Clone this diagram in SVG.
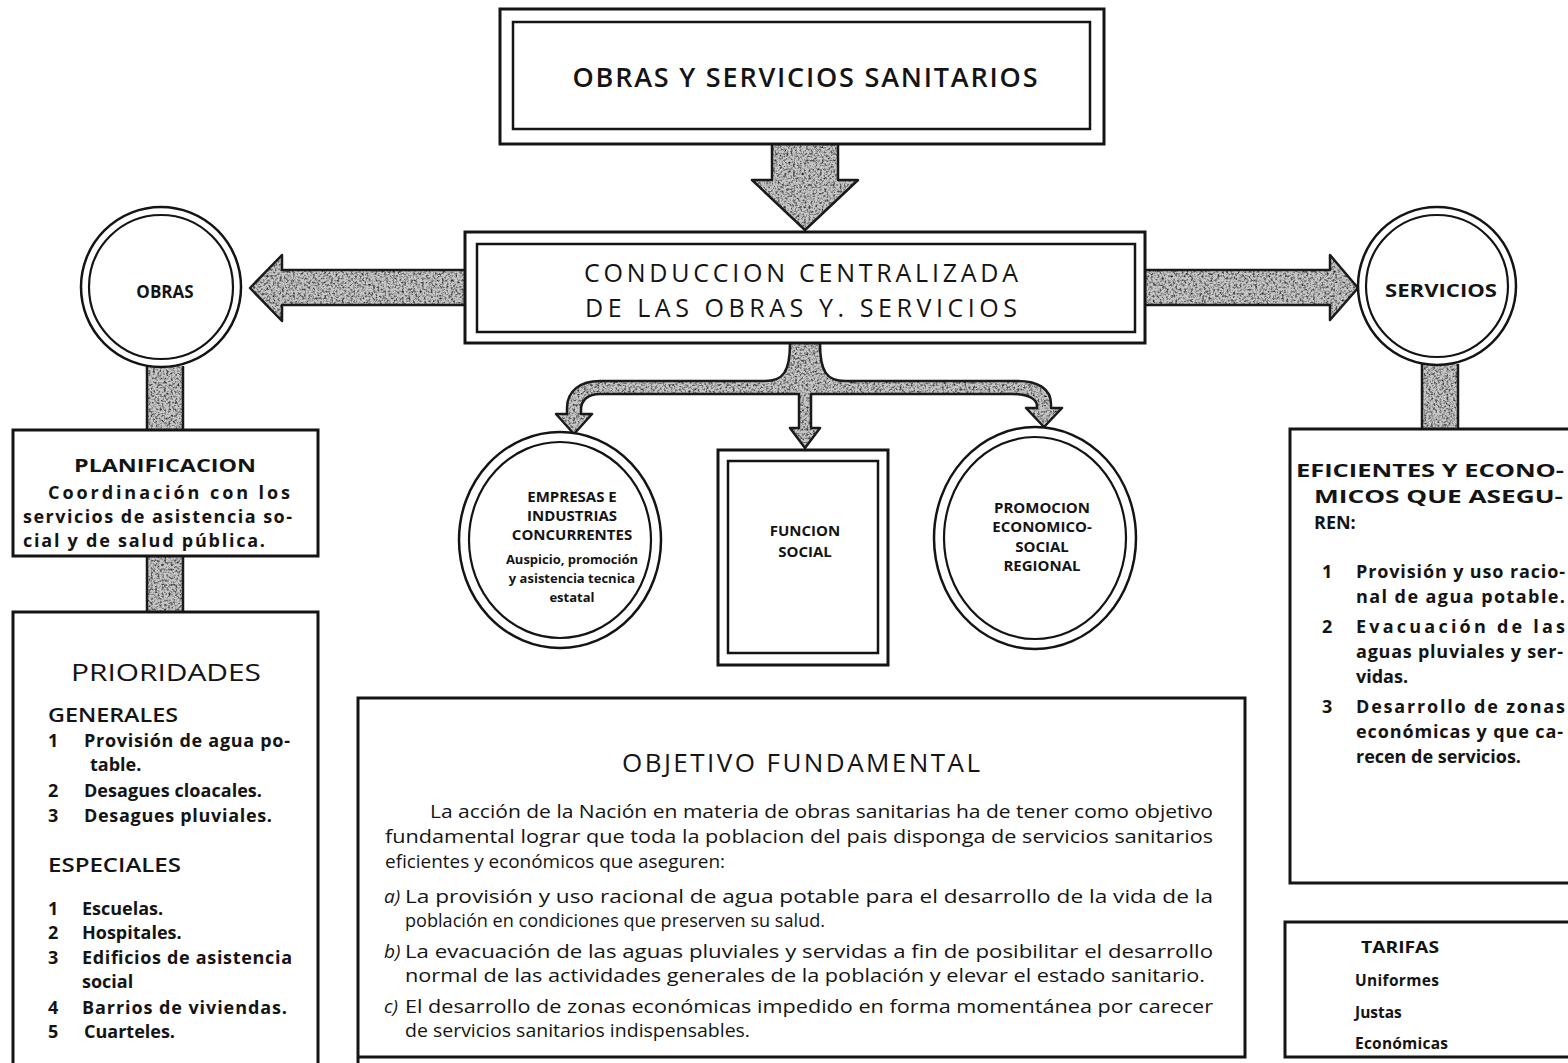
<svg xmlns="http://www.w3.org/2000/svg" width="1568" height="1063" viewBox="0 0 1568 1063">
<defs>
<style>
.bx{fill:#fff;stroke:#141414;stroke-width:3}
.bx2{fill:none;stroke:#141414;stroke-width:2.5}
.ring{fill:#fff;stroke:#141414;stroke-width:2.5}
.ring2{fill:none;stroke:#141414;stroke-width:2.2}
.arw{fill:#c6c6c6}
.arwo{fill:none;stroke:#1a1a1a;stroke-width:2.5;stroke-linejoin:round}
text{font-family:"Open Sans","Noto Sans","DejaVu Sans",sans-serif;fill:#141414}
.b{font-weight:700}
.t1{font-size:27px;font-weight:600}
.t2{font-size:25px}
.c16{font-size:17px;font-weight:700}
.s17{font-size:18px;font-weight:700}
.s13{font-size:15px;font-weight:700}
.s12{font-size:13px;font-weight:700}
.p{font-size:19px}
.mid{text-anchor:middle}
</style>
<filter id="grain" x="-5%" y="-5%" width="110%" height="110%" color-interpolation-filters="sRGB">
<feTurbulence type="fractalNoise" baseFrequency="0.45" numOctaves="3" seed="4" result="t"/>
<feColorMatrix in="t" type="matrix" values="0 0 0 0 0.15  0 0 0 0 0.15  0 0 0 0 0.15  2.4 0 0 0 -1.05" result="spots"/>
<feComposite in="spots" in2="SourceAlpha" operator="in" result="sp"/>
<feMerge><feMergeNode in="SourceGraphic"/><feMergeNode in="sp"/></feMerge>
</filter>
</defs>
<rect width="1568" height="1063" fill="#fff"/>

<g id="connectors">
<g filter="url(#grain)">
<path id="c-down" class="arw" d="M772 145 L838 145 L838 180 L858 180 L805 230 L752 180 L772 180 Z"/>
<path id="c-left" class="arw" d="M465 270 L282 270 L282 255 L250 288 L282 321 L282 305 L465 305 Z"/>
<path id="c-right" class="arw" d="M1145 270 L1330 270 L1330 255 L1358 288 L1330 320 L1330 305 L1145 305 Z"/>
<path id="c-branch" class="arw" d="M790 343 C790 372 783 381 765 381 L600 381 C580 381 567 391 567 408 L567 414 L556 414 L574 434 L592 414 L581 414 L581 410 C581 400 588 394 600 394 L799 394 L799 428 L790 428 L805 448 L820 428 L811 428 L811 394 L1012 394 C1030 394 1037 400 1037 406 L1037 408 L1026 408 L1044 427 L1062 408 L1051 408 L1051 404 C1051 389 1038 381 1018 381 L845 381 C827 381 820 372 820 343 Z"/>
<rect class="arw" x="147" y="366" width="36" height="64"/>
<rect class="arw" x="147" y="556" width="36" height="56"/>
<rect class="arw" x="1422" y="364" width="36" height="65"/>
</g>
<path class="arwo" d="M772 145 L772 180 L752 180 L805 230 L858 180 L838 180 L838 145"/>
<path class="arwo" d="M465 270 L282 270 L282 255 L250 288 L282 321 L282 305 L465 305"/>
<path class="arwo" d="M1145 270 L1330 270 L1330 255 L1358 288 L1330 320 L1330 305 L1145 305"/>
<path class="arwo" d="M790 343 C790 372 783 381 765 381 L600 381 C580 381 567 391 567 408 L567 414 L556 414 L574 434 L592 414 L581 414 L581 410 C581 400 588 394 600 394 L799 394 L799 428 L790 428 L805 448 L820 428 L811 428 L811 394 L1012 394 C1030 394 1037 400 1037 406 L1037 408 L1026 408 L1044 427 L1062 408 L1051 408 L1051 404 C1051 389 1038 381 1018 381 L845 381 C827 381 820 372 820 343"/>
<path class="arwo" d="M147 366 L147 430 M183 366 L183 430 M147 556 L147 612 M183 556 L183 612 M1422 364 L1422 429 M1458 364 L1458 429"/>
</g>

<g id="n-top">
<rect class="bx" x="500" y="9" width="604" height="135"/>
<rect class="bx2" x="513" y="22" width="577" height="107"/>
<text class="t1 mid" x="805" y="87" textLength="465">OBRAS Y SERVICIOS SANITARIOS</text>
</g>

<g id="n-central">
<rect class="bx" x="465" y="232" width="680" height="111"/>
<rect class="bx2" x="477" y="244" width="658" height="88"/>
<text class="t2 mid" x="801" y="282" textLength="434">CONDUCCION CENTRALIZADA</text>
<text class="t2 mid" x="801" y="317" textLength="432">DE LAS OBRAS Y. SERVICIOS</text>
</g>

<g id="n-obras">
<circle class="ring" cx="161" cy="287" r="80"/>
<circle class="ring2" cx="161" cy="287" r="72"/>
<text class="c16 mid" x="165" y="298">OBRAS</text>
</g>

<g id="n-servicios">
<circle class="ring" cx="1437" cy="286" r="79"/>
<circle class="ring2" cx="1437" cy="286" r="71"/>
<text class="c16 mid" x="1441" y="297" textLength="112" lengthAdjust="spacingAndGlyphs">SERVICIOS</text>
</g>

<g id="n-planificacion">
<rect class="bx" x="13" y="430" width="305" height="126"/>
<text class="s17 mid" x="165" y="472" textLength="182" lengthAdjust="spacingAndGlyphs">PLANIFICACION</text>
<text class="s17" x="48" y="499" textLength="242">Coordinación con los</text>
<text class="s17" x="23" y="523" textLength="269">servicios de asistencia so-</text>
<text class="s17" x="23" y="547" textLength="242">cial y de salud pública.</text>
</g>

<g id="n-prioridades">
<path class="bx" d="M13 1070 L13 612 L318 612 L318 1070"/>
<text class="mid" x="166" y="681" style="font-size:24px" textLength="190" lengthAdjust="spacingAndGlyphs">PRIORIDADES</text>
<text x="48" y="722" style="font-size:19px;font-weight:600" textLength="130" lengthAdjust="spacingAndGlyphs">GENERALES</text>
<text class="s17" x="48" y="747">1</text>
<text class="s17" x="84" y="747" textLength="206">Provisión de agua po-</text>
<text class="s17" x="90" y="771">table.</text>
<text class="s17" x="48" y="797">2</text>
<text class="s17" x="84" y="797" textLength="178">Desagues cloacales.</text>
<text class="s17" x="48" y="822">3</text>
<text class="s17" x="84" y="822" textLength="188">Desagues pluviales.</text>
<text x="48" y="872" style="font-size:19px;font-weight:600" textLength="133" lengthAdjust="spacingAndGlyphs">ESPECIALES</text>
<text class="s17" x="48" y="915">1</text>
<text class="s17" x="82" y="915">Escuelas.</text>
<text class="s17" x="48" y="939">2</text>
<text class="s17" x="82" y="939">Hospitales.</text>
<text class="s17" x="48" y="964">3</text>
<text class="s17" x="82" y="964" textLength="210">Edificios de asistencia</text>
<text class="s17" x="82" y="988">social</text>
<text class="s17" x="48" y="1014">4</text>
<text class="s17" x="82" y="1014" textLength="205">Barrios de viviendas.</text>
<text class="s17" x="48" y="1038">5</text>
<text class="s17" x="84" y="1038">Cuarteles.</text>
</g>

<g id="n-empresas">
<ellipse class="ring" cx="560" cy="540" rx="101" ry="108"/>
<ellipse class="ring2" cx="560" cy="540" rx="91" ry="98"/>
<text class="s13 mid" x="572" y="502">EMPRESAS E</text>
<text class="s13 mid" x="572" y="521">INDUSTRIAS</text>
<text class="s13 mid" x="572" y="540">CONCURRENTES</text>
<text class="s12 mid" x="572" y="564">Auspicio, promoción</text>
<text class="s12 mid" x="572" y="583">y asistencia tecnica</text>
<text class="s12 mid" x="572" y="602">estatal</text>
</g>

<g id="n-funcion">
<rect class="bx" x="718" y="450" width="170" height="215"/>
<rect class="bx2" x="728" y="461" width="150" height="192"/>
<text class="s13 mid" x="805" y="536">FUNCION</text>
<text class="s13 mid" x="805" y="557">SOCIAL</text>
</g>

<g id="n-promocion">
<ellipse class="ring" cx="1035" cy="538" rx="101" ry="111"/>
<ellipse class="ring2" cx="1035" cy="538" rx="91" ry="101"/>
<text class="s13 mid" x="1042" y="513">PROMOCION</text>
<text class="s13 mid" x="1042" y="532">ECONOMICO-</text>
<text class="s13 mid" x="1042" y="552">SOCIAL</text>
<text class="s13 mid" x="1042" y="571">REGIONAL</text>
</g>

<g id="n-objetivo">
<path class="bx" d="M358 1063 L358 698 L1245 698 L1245 1057 L358 1057"/>
<text class="mid" x="801" y="772" style="font-size:26px" textLength="358">OBJETIVO FUNDAMENTAL</text>
<text class="p" x="430" y="818" textLength="783" lengthAdjust="spacingAndGlyphs">La acción de la Nación en materia de obras sanitarias ha de tener como objetivo</text>
<text class="p" x="385" y="843" textLength="828" lengthAdjust="spacingAndGlyphs">fundamental lograr que toda la poblacion del pais disponga de servicios sanitarios</text>
<text class="p" x="385" y="868" textLength="340" lengthAdjust="spacingAndGlyphs">eficientes y económicos que aseguren:</text>
<text class="p" x="384" y="903" font-style="italic">a)</text>
<text class="p" x="405" y="903" textLength="808" lengthAdjust="spacingAndGlyphs">La provisión y uso racional de agua potable para el desarrollo de la vida de la</text>
<text class="p" x="405" y="927" textLength="420" lengthAdjust="spacingAndGlyphs">población en condiciones que preserven su salud.</text>
<text class="p" x="384" y="958" font-style="italic">b)</text>
<text class="p" x="405" y="958" textLength="808" lengthAdjust="spacingAndGlyphs">La evacuación de las aguas pluviales y servidas a fin de posibilitar el desarrollo</text>
<text class="p" x="405" y="982" textLength="800" lengthAdjust="spacingAndGlyphs">normal de las actividades generales de la población y elevar el estado sanitario.</text>
<text class="p" x="384" y="1013" font-style="italic">c)</text>
<text class="p" x="405" y="1013" textLength="808" lengthAdjust="spacingAndGlyphs">El desarrollo de zonas económicas impedido en forma momentánea por carecer</text>
<text class="p" x="405" y="1037" textLength="345" lengthAdjust="spacingAndGlyphs">de servicios sanitarios indispensables.</text>
</g>

<g id="n-eficientes">
<path class="bx" d="M1575 429 L1290 429 L1290 883 L1575 883"/>
<text class="s17" x="1296" y="477" textLength="268" lengthAdjust="spacingAndGlyphs">EFICIENTES Y ECONO-</text>
<text class="s17" x="1314" y="503" textLength="249" lengthAdjust="spacingAndGlyphs">MICOS QUE ASEGU-</text>
<text class="s17" x="1314" y="529">REN:</text>
<text class="s17" x="1322" y="578">1</text>
<text class="s17" x="1356" y="578" textLength="209">Provisión y uso racio-</text>
<text class="s17" x="1356" y="603" textLength="209">nal de agua potable.</text>
<text class="s17" x="1322" y="633">2</text>
<text class="s17" x="1356" y="633" textLength="209">Evacuación de las</text>
<text class="s17" x="1356" y="658" textLength="207">aguas pluviales y ser-</text>
<text class="s17" x="1356" y="683">vidas.</text>
<text class="s17" x="1322" y="713">3</text>
<text class="s17" x="1356" y="713" textLength="209">Desarrollo de zonas</text>
<text class="s17" x="1356" y="738" textLength="207">económicas y que ca-</text>
<text class="s17" x="1356" y="763" textLength="165">recen de servicios.</text>
</g>

<g id="n-tarifas">
<path class="bx" d="M1575 922 L1285 922 L1285 1057 L1575 1057"/>
<text class="mid b" x="1400" y="953" style="font-size:16px" textLength="78" lengthAdjust="spacingAndGlyphs">TARIFAS</text>
<text class="b" x="1355" y="986" style="font-size:15.5px" textLength="84">Uniformes</text>
<text class="b" x="1355" y="1018" style="font-size:15.5px">Justas</text>
<text class="b" x="1355" y="1049" style="font-size:15.5px" textLength="93">Económicas</text>
</g>
</svg>
